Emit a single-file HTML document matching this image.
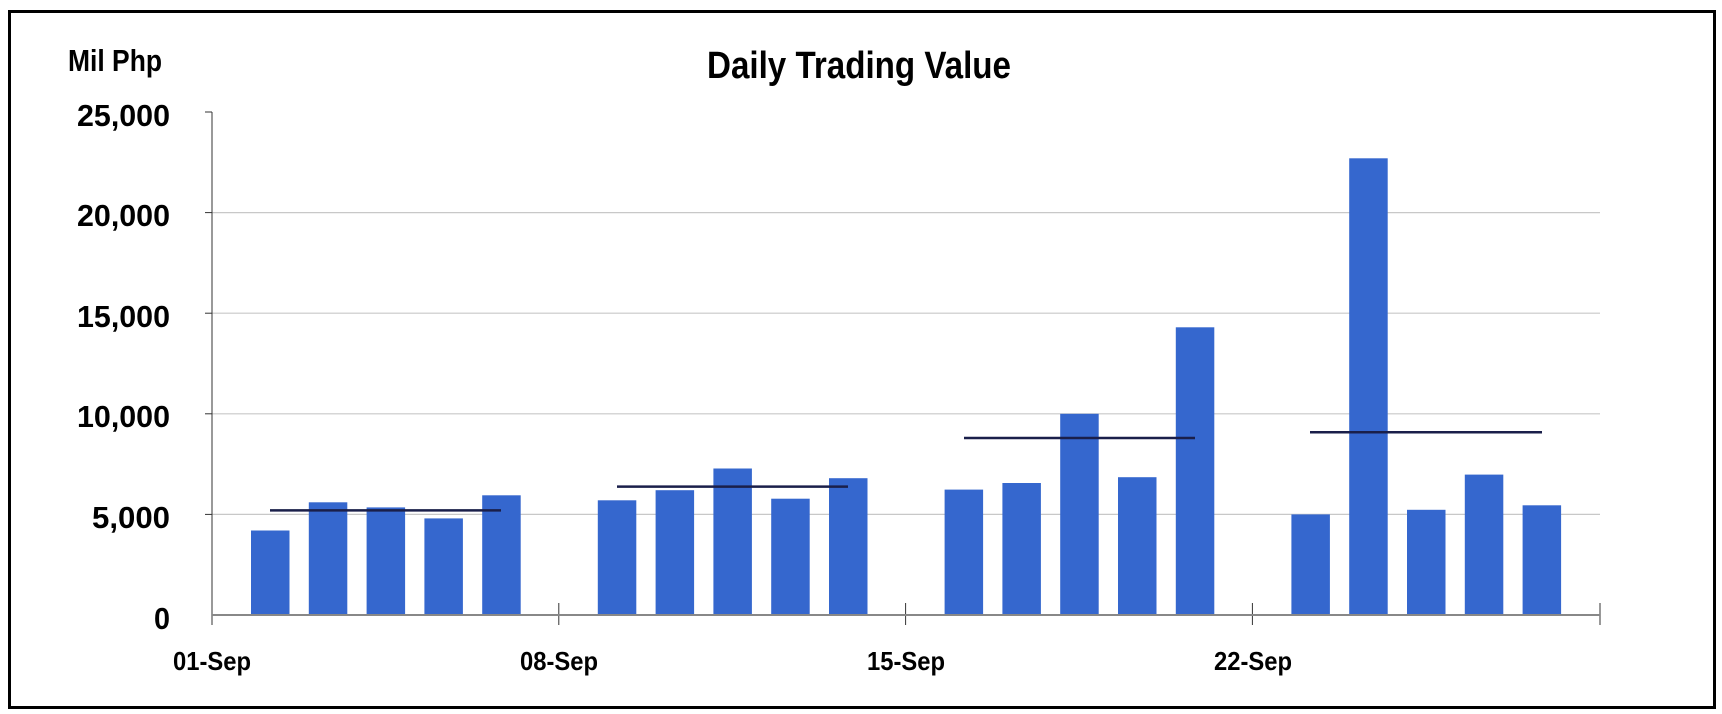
<!DOCTYPE html>
<html><head><meta charset="utf-8"><style>html,body{margin:0;padding:0;background:#fff}svg{display:block}</style></head>
<body>
<svg width="1722" height="714" viewBox="0 0 1722 714" xmlns="http://www.w3.org/2000/svg" font-family="'Liberation Sans Narrow','Liberation Sans',sans-serif">
<rect x="9.5" y="11.5" width="1705" height="696" fill="#fff" stroke="#000" stroke-width="3"/>
<g stroke="#c8c8c8" stroke-width="1.2">
<line x1="212" x2="1600" y1="514.4" y2="514.4"/>
<line x1="212" x2="1600" y1="413.8" y2="413.8"/>
<line x1="212" x2="1600" y1="313.2" y2="313.2"/>
<line x1="212" x2="1600" y1="212.6" y2="212.6"/>
</g>
<g stroke="#333" stroke-width="1">
<line x1="212" x2="212" y1="112" y2="615"/>
<line x1="205" x2="212" y1="112" y2="112"/>
<line x1="205" x2="212" y1="212.6" y2="212.6"/>
<line x1="205" x2="212" y1="313.2" y2="313.2"/>
<line x1="205" x2="212" y1="413.8" y2="413.8"/>
<line x1="205" x2="212" y1="514.4" y2="514.4"/>
<line x1="212" x2="212" y1="615" y2="625"/>
<line x1="558.8" x2="558.8" y1="603" y2="625"/>
<line x1="905.6" x2="905.6" y1="603" y2="625"/>
<line x1="1252.4" x2="1252.4" y1="603" y2="625"/>
<line x1="1600" x2="1600" y1="603" y2="625"/>
</g>
<g fill="#3567CE">
<rect x="251" y="530.5" width="38.5" height="84.5"/>
<rect x="308.8" y="502.3" width="38.5" height="112.7"/>
<rect x="366.6" y="507.4" width="38.5" height="107.6"/>
<rect x="424.4" y="518.4" width="38.5" height="96.6"/>
<rect x="482.2" y="495.3" width="38.5" height="119.7"/>
<rect x="597.8" y="500.3" width="38.5" height="114.7"/>
<rect x="655.6" y="490.2" width="38.5" height="124.8"/>
<rect x="713.4" y="468.5" width="38.5" height="146.5"/>
<rect x="771.2" y="498.7" width="38.5" height="116.3"/>
<rect x="829" y="478.2" width="38.5" height="136.8"/>
<rect x="944.6" y="489.6" width="38.5" height="125.4"/>
<rect x="1002.4" y="483" width="38.5" height="132"/>
<rect x="1060.2" y="413.8" width="38.5" height="201.2"/>
<rect x="1118" y="477.2" width="38.5" height="137.8"/>
<rect x="1175.8" y="327.3" width="38.5" height="287.7"/>
<rect x="1291.4" y="514.4" width="38.5" height="100.6"/>
<rect x="1349.2" y="158.3" width="38.5" height="456.7"/>
<rect x="1407" y="509.8" width="38.5" height="105.2"/>
<rect x="1464.8" y="474.6" width="38.5" height="140.4"/>
<rect x="1522.6" y="505.3" width="38.5" height="109.7"/>
</g>
<line x1="212" x2="1600" y1="615" y2="615" stroke="#888" stroke-width="2"/>
<g stroke="#1a1f4a" stroke-width="2.5">
<line x1="270" x2="501" y1="510.4" y2="510.4"/>
<line x1="617" x2="848" y1="486.6" y2="486.6"/>
<line x1="964" x2="1195" y1="438" y2="438"/>
<line x1="1310" x2="1542" y1="432.3" y2="432.3"/>
</g>
<g font-weight="bold" fill="#000">
<text x="707" y="78" font-size="38" textLength="304" lengthAdjust="spacingAndGlyphs">Daily Trading Value</text>
<text x="68" y="71" font-size="31" textLength="94" lengthAdjust="spacingAndGlyphs">Mil Php</text>
<g text-anchor="end" font-size="31">
<text x="170" y="126" textLength="93" lengthAdjust="spacingAndGlyphs">25,000</text>
<text x="170" y="226" textLength="93" lengthAdjust="spacingAndGlyphs">20,000</text>
<text x="170" y="327" textLength="93" lengthAdjust="spacingAndGlyphs">15,000</text>
<text x="170" y="427" textLength="93" lengthAdjust="spacingAndGlyphs">10,000</text>
<text x="170" y="528" textLength="78" lengthAdjust="spacingAndGlyphs">5,000</text>
<text x="170" y="629" textLength="16" lengthAdjust="spacingAndGlyphs">0</text>
</g>
<g font-size="26" text-anchor="middle">
<text x="212" y="670" textLength="78" lengthAdjust="spacingAndGlyphs">01-Sep</text>
<text x="559" y="670" textLength="78" lengthAdjust="spacingAndGlyphs">08-Sep</text>
<text x="906" y="670" textLength="78" lengthAdjust="spacingAndGlyphs">15-Sep</text>
<text x="1253" y="670" textLength="78" lengthAdjust="spacingAndGlyphs">22-Sep</text>
</g>
</g>
</svg>
</body></html>
